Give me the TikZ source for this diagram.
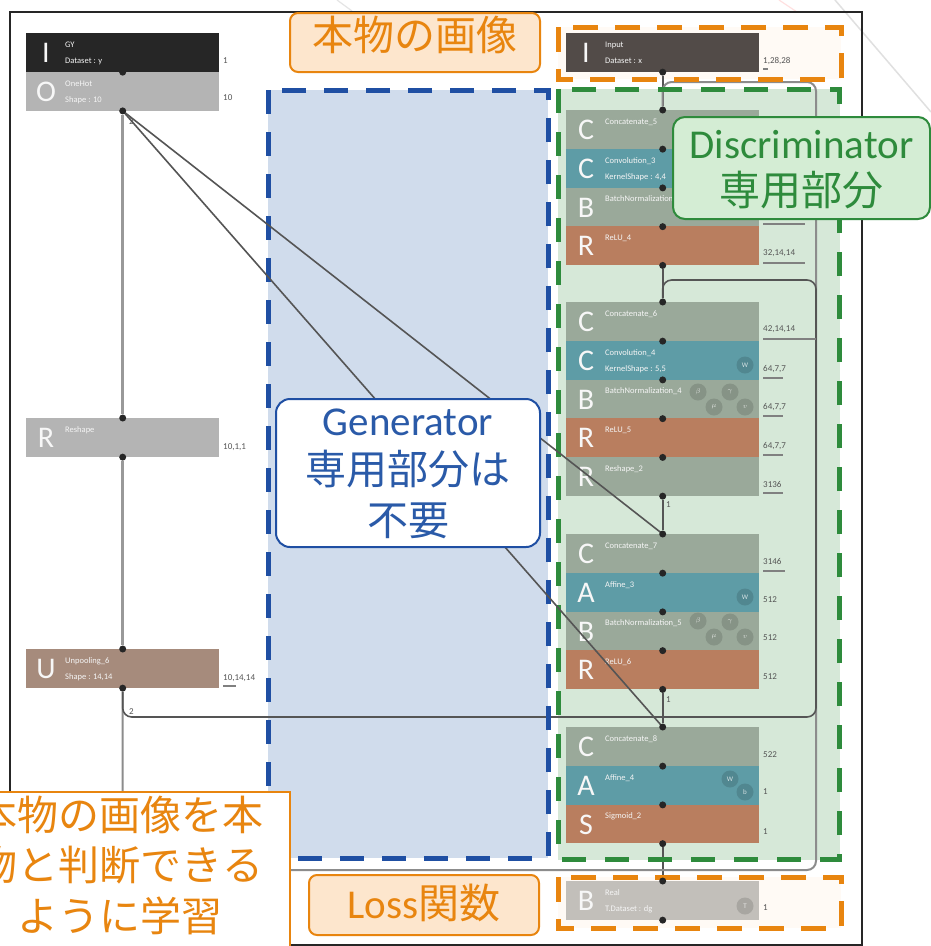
\documentclass[tikz,border=0pt]{standalone}
\usepackage{fontspec}
\setmainfont{Carlito}
\newfontfamily\cjk{Noto Sans CJK JP}
\usetikzlibrary{calc}
\definecolor{cgy}{HTML}{262626}
\definecolor{cinp}{HTML}{524B48}
\definecolor{cgray}{HTML}{B4B4B4}
\definecolor{cunp}{HTML}{A68B7C}
\definecolor{cgg}{HTML}{9AA99A}
\definecolor{cteal}{HTML}{5E9CA6}
\definecolor{corg}{HTML}{B97E5F}
\definecolor{creal}{HTML}{C2BFBA}
\definecolor{cbluefill}{HTML}{D0DCEC}
\definecolor{cblue}{HTML}{1F4FA3}
\definecolor{cbluetxt}{HTML}{2A5AA8}
\definecolor{cgreenfill}{HTML}{D6E8D8}
\definecolor{cgreen}{HTML}{2E8B3C}
\definecolor{cdiscfill}{HTML}{D4EDD4}
\definecolor{corange}{HTML}{E8850F}
\definecolor{corangefill}{HTML}{FDE6CD}
\definecolor{cpale}{HTML}{FFFAF5}
\definecolor{cconn}{HTML}{555555}
\definecolor{clbl}{HTML}{555555}
\pgfdeclarelayer{back}
\pgfdeclarelayer{conn}
\pgfdeclarelayer{front}
\pgfsetlayers{back,conn,main,front}
\tikzset{
  layerbox/.style={rectangle, minimum width=193pt, minimum height=38.75pt, inner sep=0, anchor=north west, draw=none},
  bigletter/.style={font=\fontsize{30}{30}\selectfont, text=white!94!gray, inner sep=0, anchor=center},
  nametxt/.style={font=\fontsize{8.5}{9}\selectfont, text=white!92!gray, inner sep=0, anchor=west},
  dot/.style={circle, fill=black!85, inner sep=0, minimum size=7pt},
  conn/.style={draw=cconn, line width=1.6pt},
  connL/.style={draw=black!40, line width=2.5pt},
  shp/.style={font=\fontsize{9}{9}\selectfont, text=clbl, inner sep=0, anchor=west},
  ubar/.style={draw=black!50, line width=2.5pt},
  icon/.style={circle, fill=black, fill opacity=0.13, text opacity=0.75, text=white, minimum size=17pt, inner sep=0, font=\fontsize{7}{7}\selectfont},
  bigtxt/.style={font=\fontsize{41}{49}\selectfont, inner sep=0, anchor=base},
  callO/.style={draw=corange, line width=2pt, fill=corangefill, rounded corners=8pt, inner sep=0},
}
\newcommand{\nnlayer}[7]{%
  \node[layerbox, fill=#4] (#1) at (#2,#3) {};
  \node[bigletter] (#1L) at ($(#1.north west)+(20,20)$) {#5};
  \node[nametxt] (#1A) at ($(#1.north west)+(39,12)$) {#6};
  \node[nametxt] (#1B) at ($(#1.north west)+(39,28)$) {#7};
}
\begin{document}
\begin{tikzpicture}[x=1pt,y=-1pt]
\useasboundingbox (0,0) rectangle (931,946);

% layers (nodes)
\nnlayer{gy}{26}{33}{cgy}{I}{GY}{Dataset : y}
\nnlayer{onehot}{26}{71.75}{cgray}{O}{OneHot}{Shape : 10}
\nnlayer{reshape}{26}{418}{cgray}{R}{Reshape}{}
\nnlayer{unpool}{26}{649}{cunp}{U}{Unpooling\_6}{Shape : 14,14}
\nnlayer{input}{566}{33}{cinp}{I}{Input}{Dataset : x}
\nnlayer{conc5}{566}{110}{cgg}{C}{Concatenate\_5}{}
\nnlayer{conv3}{566}{148.75}{cteal}{C}{Convolution\_3}{KernelShape : 4,4}
\nnlayer{bn3}{566}{187.5}{cgg}{B}{BatchNormalization\_3}{}
\nnlayer{relu4}{566}{226.25}{corg}{R}{ReLU\_4}{}
\nnlayer{conc6}{566}{302}{cgg}{C}{Concatenate\_6}{}
\nnlayer{conv4}{566}{340.75}{cteal}{C}{Convolution\_4}{KernelShape : 5,5}
\nnlayer{bn4}{566}{379.5}{cgg}{B}{BatchNormalization\_4}{}
\nnlayer{relu5}{566}{418.25}{corg}{R}{ReLU\_5}{}
\nnlayer{reshape2}{566}{457}{cgg}{R}{Reshape\_2}{}
\nnlayer{conc7}{566}{534}{cgg}{C}{Concatenate\_7}{}
\nnlayer{aff3}{566}{572.75}{cteal}{A}{Affine\_3}{}
\nnlayer{bn5}{566}{611.5}{cgg}{B}{BatchNormalization\_5}{}
\nnlayer{relu6}{566}{650.25}{corg}{R}{ReLU\_6}{}
\nnlayer{conc8}{566}{727}{cgg}{C}{Concatenate\_8}{}
\nnlayer{aff4}{566}{765.75}{cteal}{A}{Affine\_4}{}
\nnlayer{sig2}{566}{804.5}{corg}{S}{Sigmoid\_2}{}
\nnlayer{real}{566}{881}{creal}{B}{Real}{T.Dataset : dg}

% parameter icons
\node[icon] (conv4W) at (745,365) {W};
\node[icon] (bn4a) at (698,392) {$\beta$};
\node[icon] (bn4b) at (730,392) {$\gamma$};
\node[icon] (bn4c) at (714,407) {$\mu$};
\node[icon] (bn4d) at (745,407) {$v$};
\node[icon] (aff3W) at (745,597) {W};
\node[icon] (bn5a) at (698,621) {$\beta$};
\node[icon] (bn5b) at (730,622) {$\gamma$};
\node[icon] (bn5c) at (714,637) {$\mu$};
\node[icon] (bn5d) at (745,637) {$v$};
\node[icon] (aff4W) at (730,779) {W};
\node[icon] (aff4b) at (745,792) {b};
\node[icon] (realT) at (745,906) {T};

% connectors that run over the layer boxes (drawn after the boxes)
\draw[conn] (onehot.south) -- (conc7.north);
\draw[conn] (onehot.south) -- (conc8.north);

% dots
\foreach \n in {gy,onehot,reshape,unpool,input,conc5,conv3,bn3,relu4,conc6,conv4,bn4,relu5,reshape2,conc7,aff3,bn5,relu6,conc8,aff4,sig2,real}
  \node[dot] (\n-so) at (\n.south) {};
\foreach \n in {reshape,unpool,conc5,conc6,conc7,conc8,real}
  \node[dot] (\n-no) at (\n.north) {};

% shape labels
\node[shp] (gyD) at (223,61) {1};
\node[shp] (onehotD) at (223,98) {10};
\node[shp] (reshapeD) at (223,447) {10,1,1};
\node[shp] (unpoolD) at (223,678) {10,14,14};
\node[shp] (inputD) at (763,61) {1,28,28};
\node[shp] (relu4D) at (763,253) {32,14,14};
\node[shp] (conc6D) at (763,329) {42,14,14};
\node[shp] (conv4D) at (763,369) {64,7,7};
\node[shp] (bn4D) at (763,407) {64,7,7};
\node[shp] (relu5D) at (763,446) {64,7,7};
\node[shp] (reshape2D) at (763,484) {3136};
\node[shp] (conc7D) at (763,561) {3146};
\node[shp] (aff3D) at (763,600) {512};
\node[shp] (bn5D) at (763,638) {512};
\node[shp] (relu6D) at (763,677) {512};
\node[shp] (conc8D) at (763,755) {522};
\node[shp] (aff4D) at (763,792) {1};
\node[shp] (sig2D) at (763,832) {1};
\node[shp] (realD) at (763,908) {1};
\node[shp] (onehotN) at (129,122) {2};
\node[shp] (unpoolN) at (129,712) {2};
\node[shp] (reshape2N) at (666,505) {1};
\node[shp] (relu6N) at (666,700) {1};

\coordinate (ra) at (816,717);
\coordinate (rb) at (816,280);
\coordinate (rc) at (816,870);
\coordinate (rd) at (816,82);

\begin{pgfonlayer}{back}
  \fill[white] (0,0) rectangle (931,946);
  % faint remnants outside the frame
  \draw[black!12, line width=1.5pt] (835,0) -- (931,112);
  \draw[red!12, line width=1.2pt] (779,0) -- (797,12);
  \draw[black!10, line width=1.2pt] (337,0) -- (352,11);
  \fill[cbluefill] (268,90) rectangle (548,858);
  \fill[cgreenfill] (558,89) rectangle (840,860);
  \fill[cpale] (558,27) rectangle (841,79);
  \fill[cpale] (558,877) rectangle (841,928);
  % frame
  \draw[black!85, line width=1.6pt] (10,12) rectangle (862,945);
\end{pgfonlayer}

\begin{pgfonlayer}{conn}
  \draw[connL] (onehot-so) -- (reshape-no);
  \draw[connL] (reshape-so) -- (unpool-no);
  \draw[conn] (input-so) -- (conc5-no);
  \draw[conn] (relu4-so) -- (conc6-no);
  \draw[conn] (reshape2-so) -- (conc7-no);
  \draw[conn] (relu6-so) -- (conc8-no);
  \draw[conn] (sig2-so) -- (real-no);
  \draw[draw=black!45, line width=2pt, rounded corners=9pt] (unpool-so) |- (rc) -- (rd) -| (conc5-no);
  \draw[conn, rounded corners=9pt] (unpool-so) |- (ra) -- (rb) -| (conc6-no);
  % label underlines
  \draw[ubar] (763,224) -- (805,224);
  \draw[ubar] (763,263) -- (805,263);
  \draw[ubar] (763,339) -- (816,339);
  \draw[ubar] (763,378) -- (783,378);
  \draw[ubar] (763,416) -- (783,416);
  \draw[ubar] (763,455) -- (783,455);
  \draw[ubar] (763,493) -- (783,493);
  \draw[ubar] (763,571) -- (785,571);
  \draw[ubar] (223,686) -- (236,686);
  \draw[ubar, line width=1.5pt] (763,69) -- (768,69);
  % dashed group borders
  \draw[cblue, line width=5pt, dash pattern=on 24pt off 18pt] (268,90) rectangle (548,858);
  \draw[cgreen, line width=5pt, dash pattern=on 24pt off 19pt] (558,89) rectangle (839,859);
  \draw[corange, line width=5pt, dash pattern=on 25pt off 17pt] (558,27) rectangle (841,79);
  \draw[corange, line width=5pt, dash pattern=on 25pt off 17pt] (558,877) rectangle (841,928);
\end{pgfonlayer}

\begin{pgfonlayer}{front}
  % callouts
  \node[callO, minimum width=250pt, minimum height=59pt] (realimg) at (415,42.5) {};
  \node[bigtxt, text=corange] (realimgT) at (415,50) {\cjk 本物の画像};

  \node[draw=cgreen, line width=2pt, fill=cdiscfill, rounded corners=12pt, minimum width=257pt, minimum height=102pt, inner sep=0] (disc) at (801.5,168) {};
  \node[bigtxt, text=cgreen] (discT1) at (801.5,158) {Discriminator};
  \node[bigtxt, text=cgreen] (discT2) at (801.5,205) {\cjk 専用部分};

  \node[draw=cblue, line width=2pt, fill=white, rounded corners=14pt, minimum width=264pt, minimum height=148pt, inner sep=0] (gen) at (408,473) {};
  \node[bigtxt, text=cbluetxt] (genT1) at (408,435) {Generator};
  \node[bigtxt, text=cbluetxt] (genT2) at (408,484) {\cjk 専用部分は};
  \node[bigtxt, text=cbluetxt] (genT3) at (408,535) {\cjk 不要};

  \node[callO, minimum width=230pt, minimum height=60pt] (loss) at (424,905) {};
  \node[bigtxt, text=corange] (lossT) at (424,918) {Loss{\cjk 関数}};

  \node[draw=corange, line width=2pt, fill=white, minimum width=340pt, minimum height=170pt, inner sep=0] (learn) at (120,877) {};
  \node[bigtxt, text=corange] (learnT1) at (120,830) {\cjk 本物の画像を本};
  \node[bigtxt, text=corange] (learnT2) at (120,880) {\cjk 物と判断できる};
  \node[bigtxt, text=corange] (learnT3) at (120,931) {\cjk ように学習};
\end{pgfonlayer}
\end{tikzpicture}
\end{document}
